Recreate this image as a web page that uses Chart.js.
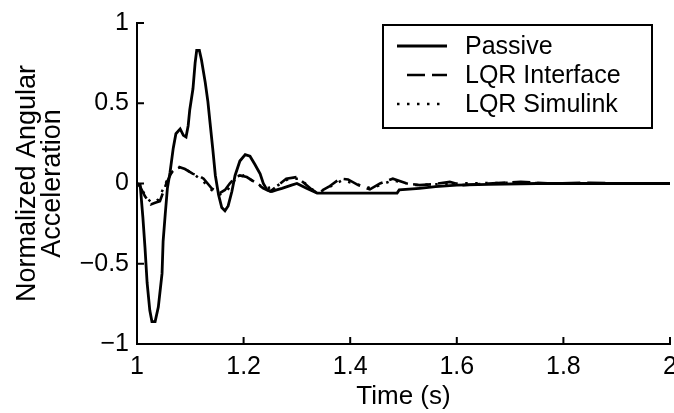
<!DOCTYPE html>
<html lang="en">
<head>
<meta charset="UTF-8">
<title>Normalized Angular Acceleration</title>
<script src="https://cdn.jsdelivr.net/npm/chart.js"></script>
<style>
  body { margin: 0; background: #fff; }
  #wrap { width: 674px; height: 413px; }
</style>
</head>
<body>
<div id="wrap"><canvas id="accelChart" width="674" height="413"></canvas></div>
<script>
// time (s) / normalized angular acceleration for each run
const passiveTime = [1.000, 1.006, 1.011, 1.015, 1.019, 1.024, 1.028, 1.034, 1.040, 1.047, 1.049, 1.053, 1.057,
  1.062, 1.068, 1.073, 1.081, 1.087, 1.092, 1.096, 1.099, 1.105, 1.109, 1.112, 1.117, 1.121, 1.128, 1.133,
  1.137, 1.142, 1.147, 1.153, 1.159, 1.165, 1.171, 1.178, 1.184, 1.193, 1.203, 1.212, 1.221, 1.231, 1.237,
  1.244, 1.253, 1.262, 1.272, 1.290, 1.300, 1.318, 1.338, 1.400, 1.488, 1.492, 1.530, 1.560, 1.600, 1.660,
  1.750, 1.850, 2.000];
const passiveAccel = [0.00, -0.01, -0.21, -0.40, -0.62, -0.79, -0.86, -0.86, -0.77, -0.56, -0.36, -0.19, -0.03,
  0.07, 0.22, 0.31, 0.34, 0.30, 0.29, 0.36, 0.46, 0.59, 0.75, 0.83, 0.83, 0.77, 0.63, 0.51,
  0.38, 0.22, 0.05, -0.07, -0.15, -0.17, -0.14, -0.05, 0.05, 0.14, 0.18, 0.17, 0.12, 0.06, 0.00,
  -0.04, -0.05, -0.04, -0.03, -0.01, 0.00, -0.03, -0.06, -0.06, -0.06, -0.04, -0.03, -0.02, -0.01, -0.005,
  0.00, 0.00, 0.00];

const interfaceTime = [1.000, 1.006, 1.015, 1.026, 1.034, 1.043, 1.055, 1.065, 1.077, 1.090, 1.105, 1.115, 1.125,
  1.140, 1.155, 1.165, 1.174, 1.185, 1.193, 1.206, 1.225, 1.237, 1.250, 1.265, 1.280, 1.300, 1.325, 1.338,
  1.360, 1.381, 1.396, 1.415, 1.437, 1.456, 1.480, 1.507, 1.530, 1.555, 1.587, 1.610, 1.660, 1.720, 1.780,
  1.850, 1.920, 2.000];
const interfaceAccel = [0.00, -0.02, -0.08, -0.13, -0.12, -0.11, 0.00, 0.07, 0.105, 0.09, 0.06, 0.05, 0.03,
  -0.03, -0.06, -0.04, 0.00, 0.04, 0.05, 0.04, 0.00, -0.03, -0.05, -0.01, 0.03, 0.04, -0.03, -0.06,
  -0.02, 0.03, 0.025, -0.01, -0.037, 0.00, 0.03, 0.00, -0.01, -0.005, 0.01, -0.01, 0.00, 0.01, 0.00,
  0.005, 0.00, 0.00];

const simulinkTime = [1.000, 1.008, 1.018, 1.028, 1.040, 1.055, 1.067, 1.080, 1.095, 1.110, 1.125, 1.140, 1.155,
  1.170, 1.185, 1.200, 1.220, 1.240, 1.260, 1.285, 1.305, 1.330, 1.345, 1.385, 1.440, 1.480, 1.520, 1.600,
  1.700, 1.800, 2.000];
const simulinkAccel = [0.00, -0.03, -0.09, -0.12, -0.10, 0.01, 0.08, 0.10, 0.08, 0.05, 0.01, -0.04, -0.07,
  -0.04, 0.03, 0.05, 0.01, -0.03, -0.02, 0.03, 0.03, -0.04, -0.05, 0.02, -0.03, 0.02, -0.01, 0.00,
  0.005, 0.00, 0.00];

const seriesNames = ['Passive', 'LQR Interface', 'LQR Simulink'];
const xTicks = [1, 1.2, 1.4, 1.6, 1.8, 2];
const yTicks = [-1, -0.5, 0, 0.5, 1];

const FONT = '"Liberation Sans", Arial, Helvetica, sans-serif';

function toPoints(ts, ys) {
  return ts.map((t, i) => ({ x: t, y: ys[i] }));
}

// matlab style ticks pointing into the axes
const inwardTicks = {
  id: 'inwardTicks',
  afterDraw(chart) {
    const { ctx, chartArea, scales } = chart;
    ctx.save();
    ctx.strokeStyle = '#000';
    ctx.lineWidth = 2;
    ctx.beginPath();
    scales.x.ticks.forEach(t => {
      const px = scales.x.getPixelForValue(t.value);
      ctx.moveTo(px, chartArea.bottom);
      ctx.lineTo(px, chartArea.bottom - 7);
    });
    scales.y.ticks.forEach(t => {
      const py = scales.y.getPixelForValue(t.value);
      ctx.moveTo(chartArea.left, py);
      ctx.lineTo(chartArea.left + 7, py);
    });
    ctx.stroke();
    ctx.restore();
  }
};

// boxed legend in the top right corner of the axes
const boxLegend = {
  id: 'boxLegend',
  afterDraw(chart) {
    const { ctx, chartArea } = chart;
    const right = chartArea.right - 18;
    const left = right - 269;
    const top = chartArea.top + 2;
    const bottom = top + 103;
    ctx.save();
    ctx.fillStyle = '#fff';
    ctx.fillRect(left, top, right - left, bottom - top);
    ctx.strokeStyle = '#000';
    ctx.lineWidth = 2;
    ctx.setLineDash([]);
    ctx.strokeRect(left, top, right - left, bottom - top);
    ctx.font = '25px ' + FONT;
    ctx.textBaseline = 'middle';
    ctx.fillStyle = '#000';
    chart.data.datasets.forEach((ds, i) => {
      const y = top + 21 + i * 29;
      ctx.setLineDash(ds.borderDash || []);
      ctx.lineWidth = ds.borderWidth;
      ctx.beginPath();
      ctx.moveTo(left + 14 + (ds.borderDash && ds.borderDash[0] > 5 ? 10 : 0), y);
      ctx.lineTo(left + 64, y);
      ctx.stroke();
      ctx.setLineDash([]);
      ctx.fillText(ds.label, left + 82, y + 1);
    });
    ctx.restore();
  }
};

const ctx = document.getElementById('accelChart').getContext('2d');
new Chart(ctx, {
  type: 'line',
  data: {
    datasets: [
      {
        label: seriesNames[0],
        data: toPoints(passiveTime, passiveAccel),
        borderColor: '#000',
        borderWidth: 2.8
      },
      {
        label: seriesNames[1],
        data: toPoints(interfaceTime, interfaceAccel),
        borderColor: '#000',
        borderWidth: 2.6,
        borderDash: [18, 7]
      },
      {
        label: seriesNames[2],
        data: toPoints(simulinkTime, simulinkAccel),
        borderColor: '#000',
        borderWidth: 2.5,
        borderDash: [2.5, 7.5]
      }
    ]
  },
  options: {
    responsive: false,
    animation: false,
    events: [],
    layout: { padding: { top: 20, right: 4, left: 0, bottom: 0 } },
    elements: {
      point: { radius: 0 },
      line: { tension: 0, borderCapStyle: 'butt' }
    },
    plugins: {
      legend: { display: false },
      tooltip: { enabled: false }
    },
    scales: {
      x: {
        type: 'linear',
        min: 1,
        max: 2,
        afterBuildTicks: s => { s.ticks = xTicks.map(v => ({ value: v })); },
        afterFit: s => { s.height = 69; s.paddingLeft = 0; s.paddingRight = 0; },
        grid: { display: false, drawTicks: false },
        border: { display: true, color: '#000', width: 2 },
        ticks: {
          color: '#000',
          padding: 8,
          maxRotation: 0,
          font: { family: FONT, size: 25, lineHeight: 1.2 },
          callback: v => String(v)
        },
        title: {
          display: true,
          text: 'Time (s)',
          color: '#000',
          font: { family: FONT, size: 26, lineHeight: 1.0 },
          padding: { top: 0, bottom: 3 }
        }
      },
      y: {
        min: -1,
        max: 1,
        afterBuildTicks: s => { s.ticks = yTicks.map(v => ({ value: v })); },
        afterFit: s => { s.width = 137; },
        grid: { display: false, drawTicks: false },
        border: { display: true, color: '#000', width: 2 },
        ticks: {
          color: '#000',
          padding: 8,
          font: { family: FONT, size: 25, lineHeight: 1.2 },
          callback: v => String(v).replace('-', '\u2212')
        },
        title: {
          display: true,
          text: ['Normalized Angular', 'Acceleration'],
          color: '#000',
          font: { family: FONT, size: 27, lineHeight: 0.93 },
          padding: { top: 15, bottom: 0 }
        }
      }
    }
  },
  plugins: [inwardTicks, boxLegend]
});
</script>
</body>
</html>
